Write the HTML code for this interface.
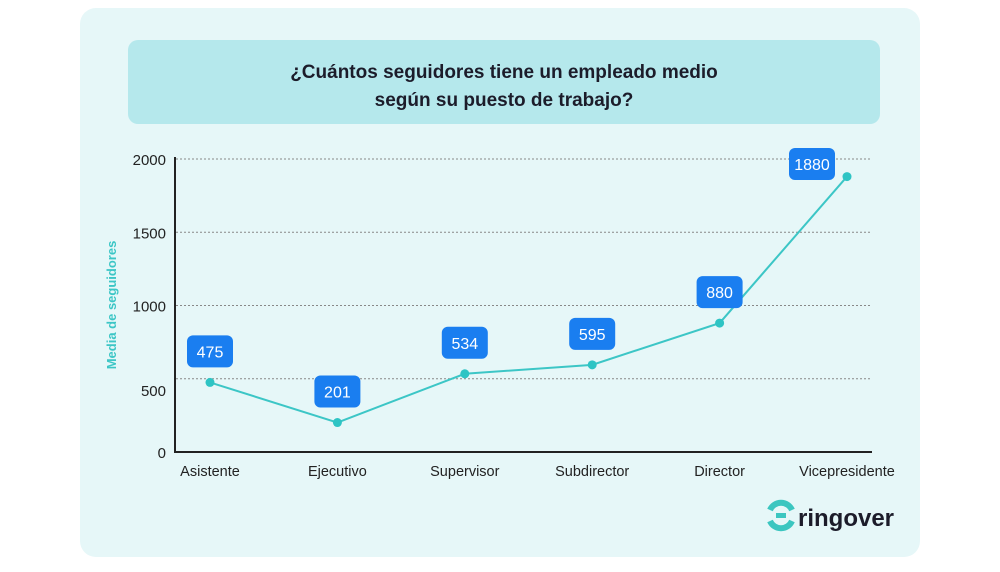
<!DOCTYPE html>
<html><head><meta charset="utf-8"><style>
body{margin:0;background:#fff;width:1000px;height:567px;overflow:hidden;font-family:"Liberation Sans",sans-serif}
</style></head><body>
<svg id="c" width="1000" height="567" xmlns="http://www.w3.org/2000/svg">
<rect x="80" y="8" width="840" height="549" rx="16" fill="#e6f7f8"/>
<rect x="128" y="40" width="752" height="84" rx="10" fill="#b5e8ec"/>
<text x="504" y="78" text-anchor="middle" font-size="19" font-weight="bold" fill="#1c1c2a">¿Cuántos seguidores tiene un empleado medio</text>
<text x="504" y="106" text-anchor="middle" font-size="19" font-weight="bold" fill="#1c1c2a">según su puesto de trabajo?</text>
<text transform="translate(116,305) rotate(-90)" text-anchor="middle" font-size="13" font-weight="bold" fill="#3cc6c6">Media de seguidores</text>
<g id="plot"></g>
<g>
<path d="M770 510 A12 12 0 0 1 792 510" stroke="#3cc6c0" stroke-width="6" fill="none"/>
<path d="M770 521 A12 12 0 0 0 792 521" stroke="#3cc6c0" stroke-width="6" fill="none"/>
<rect x="776" y="513" width="10" height="5" fill="#3cc6c0"/>
<text x="798" y="526" font-size="24" font-weight="bold" fill="#1c1c2a">ringover</text>
</g>
</svg>
<script>
const categories=["Asistente","Ejecutivo","Supervisor","Subdirector","Director","Vicepresidente"];
const values=[475,201,534,595,880,1880];
const labels=["475","201","534","595","880","1880"];
const ticks=[0,500,1000,1500,2000];
const NS="http://www.w3.org/2000/svg";
const g=document.getElementById("plot");
const y=v=>452-v*0.1465;
const x=i=>210+i*127.4;
function mk(t,a){const e=document.createElementNS(NS,t);for(const k in a)e.setAttribute(k,a[k]);g.appendChild(e);return e;}
ticks.forEach(t=>{
 if(t>0){const l=mk("line",{x1:176,x2:872,y1:y(t),y2:y(t),stroke:"#888","stroke-dasharray":"2,2","stroke-width":1});
 
 }
 const tx=mk("text",{x:166,y:(t===500?y(t)+17:y(t)+6),"text-anchor":"end","font-size":15,fill:"#222"});
 tx.textContent=t;
 
 
});
const ax=mk("line",{x1:175,x2:175,y1:157,y2:453,stroke:"#222","stroke-width":2});


const bx=mk("line",{x1:174,x2:872,y1:452,y2:452,stroke:"#222","stroke-width":2});


const pl=mk("polyline",{points:values.map((v,i)=>x(i)+","+y(v)).join(" "),fill:"none",stroke:"#3cc6c6","stroke-width":2});


values.forEach((v,i)=>{
 const c=mk("circle",{cx:x(i),cy:y(v),r:4.5,fill:"#2ec4c4"});
 
 
 let cy=y(v)-31, cx=x(i);
 if(cy<164){cy=164;cx=x(i)-35;}
 const w=46;
 const r=mk("rect",{x:cx-w/2,y:cy-16,width:w,height:32,rx:6,fill:"#1a7ef0"});
 
 
 const t=mk("text",{x:cx,y:cy+6,"text-anchor":"middle","font-size":16,fill:"#fff"});
 t.textContent=labels[i];
 
 
 const xl=mk("text",{x:x(i),y:476,"text-anchor":"middle","font-size":14.5,fill:"#222"});
 xl.textContent=categories[i];
 
 
});
</script>
</body></html>
